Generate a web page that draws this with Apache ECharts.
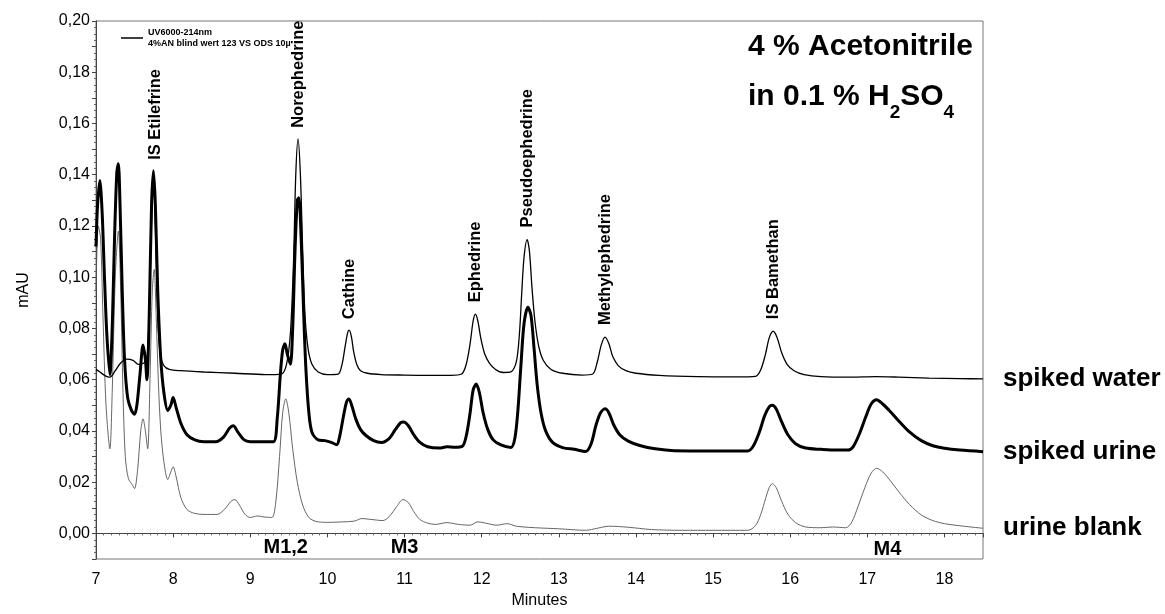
<!DOCTYPE html>
<html><head><meta charset="utf-8">
<script src="https://cdn.jsdelivr.net/npm/echarts@6/dist/echarts.min.js"></script>
<style>html,body{margin:0;padding:0;background:#fff}#c{width:1165px;height:614px}</style>
</head><body><div id="c"></div><script>
const spikedWater = [[7.00,0.064],[7.05,0.063],[7.12,0.0615],[7.18,0.061],[7.25,0.0635],[7.32,0.0665],[7.40,0.068],[7.48,0.0675],[7.55,0.066],[7.62,0.0665],[7.66,0.068],[7.69,0.085],[7.71,0.11],[7.73,0.13],[7.75,0.135],[7.77,0.12],[7.79,0.095],[7.81,0.078],[7.84,0.069],[7.88,0.0655],[7.95,0.064],[8.10,0.0635],[8.40,0.063],[8.80,0.0625],[9.20,0.062],[9.40,0.0622],[9.47,0.066],[9.52,0.078],[9.56,0.105],[9.59,0.14],[9.62,0.154],[9.65,0.14],[9.68,0.11],[9.71,0.085],[9.75,0.072],[9.80,0.066],[9.88,0.063],[10.00,0.062],[10.14,0.0622],[10.19,0.066],[10.23,0.073],[10.26,0.078],[10.28,0.0793],[10.31,0.077],[10.34,0.071],[10.38,0.066],[10.43,0.0635],[10.52,0.0625],[10.70,0.062],[11.00,0.0618],[11.30,0.0617],[11.60,0.0617],[11.74,0.0622],[11.80,0.066],[11.85,0.074],[11.89,0.083],[11.92,0.0856],[11.95,0.083],[11.99,0.076],[12.04,0.070],[12.10,0.0665],[12.18,0.064],[12.28,0.0628],[12.38,0.063],[12.45,0.067],[12.49,0.078],[12.52,0.094],[12.55,0.108],[12.59,0.1147],[12.62,0.110],[12.65,0.097],[12.69,0.083],[12.74,0.073],[12.80,0.0675],[12.90,0.064],[13.05,0.0625],[13.30,0.0618],[13.44,0.0622],[13.50,0.067],[13.55,0.0735],[13.60,0.0766],[13.65,0.074],[13.70,0.069],[13.77,0.0655],[13.87,0.0635],[14.00,0.0625],[14.30,0.0617],[14.80,0.0612],[15.30,0.0611],[15.55,0.0613],[15.62,0.064],[15.68,0.070],[15.73,0.0765],[15.78,0.0789],[15.83,0.0765],[15.89,0.0705],[15.96,0.066],[16.05,0.0635],[16.18,0.062],[16.40,0.0612],[16.80,0.061],[17.10,0.0612],[17.40,0.061],[17.80,0.0606],[18.20,0.0604],[18.50,0.0603]];

const spikedUrine = [[7.00,0.112],[7.02,0.128],[7.05,0.1377],[7.08,0.125],[7.11,0.100],[7.14,0.078],[7.18,0.062],[7.21,0.080],[7.24,0.115],[7.27,0.141],[7.29,0.1443],[7.31,0.130],[7.34,0.095],[7.37,0.068],[7.41,0.053],[7.46,0.048],[7.50,0.0465],[7.53,0.050],[7.57,0.062],[7.61,0.0735],[7.64,0.068],[7.66,0.060],[7.69,0.085],[7.72,0.128],[7.745,0.1415],[7.77,0.128],[7.80,0.095],[7.84,0.068],[7.88,0.055],[7.93,0.048],[7.97,0.050],[8.00,0.053],[8.04,0.049],[8.10,0.043],[8.18,0.0385],[8.28,0.0365],[8.40,0.0358],[8.55,0.0358],[8.65,0.0375],[8.73,0.041],[8.78,0.042],[8.84,0.0395],[8.92,0.0365],[9.00,0.0358],[9.15,0.0358],[9.30,0.0358],[9.35,0.045],[9.39,0.062],[9.42,0.0715],[9.45,0.074],[9.48,0.070],[9.52,0.066],[9.55,0.080],[9.58,0.110],[9.61,0.130],[9.63,0.131],[9.66,0.115],[9.69,0.088],[9.72,0.065],[9.76,0.047],[9.80,0.0395],[9.88,0.0365],[9.97,0.0362],[10.05,0.0355],[10.12,0.0346],[10.16,0.038],[10.21,0.046],[10.25,0.0515],[10.28,0.0525],[10.32,0.0495],[10.37,0.0445],[10.43,0.0405],[10.50,0.0382],[10.60,0.0362],[10.70,0.0355],[10.80,0.037],[10.88,0.0405],[10.95,0.0432],[10.99,0.0435],[11.05,0.042],[11.12,0.0385],[11.20,0.0355],[11.30,0.0338],[11.45,0.0333],[11.55,0.0338],[11.65,0.0336],[11.75,0.034],[11.80,0.038],[11.85,0.047],[11.89,0.056],[11.93,0.0583],[11.97,0.055],[12.02,0.047],[12.08,0.0405],[12.15,0.0365],[12.25,0.0345],[12.38,0.0335],[12.43,0.037],[12.47,0.048],[12.51,0.066],[12.55,0.082],[12.60,0.0883],[12.64,0.085],[12.68,0.072],[12.72,0.058],[12.77,0.047],[12.83,0.040],[12.92,0.0355],[13.05,0.0335],[13.20,0.0328],[13.35,0.032],[13.42,0.035],[13.48,0.042],[13.54,0.047],[13.60,0.0486],[13.65,0.047],[13.71,0.0425],[13.79,0.0385],[13.90,0.036],[14.05,0.0343],[14.25,0.033],[14.50,0.0323],[15.00,0.0322],[15.45,0.0322],[15.52,0.034],[15.60,0.0395],[15.67,0.046],[15.73,0.0495],[15.77,0.050],[15.82,0.0485],[15.89,0.0435],[15.97,0.0385],[16.07,0.035],[16.20,0.0333],[16.40,0.0328],[16.60,0.0325],[16.75,0.0325],[16.82,0.034],[16.90,0.039],[16.98,0.0455],[17.05,0.0505],[17.12,0.0522],[17.20,0.0505],[17.30,0.0475],[17.42,0.0435],[17.55,0.0395],[17.70,0.0362],[17.85,0.0342],[18.00,0.0332],[18.20,0.0325],[18.50,0.0319]];

const urineBlank = [[7.00,0.095],[7.03,0.120],[7.06,0.115],[7.09,0.085],[7.13,0.050],[7.18,0.033],[7.21,0.055],[7.25,0.100],[7.29,0.118],[7.32,0.095],[7.35,0.055],[7.38,0.030],[7.42,0.0214],[7.47,0.019],[7.50,0.0175],[7.54,0.025],[7.58,0.040],[7.61,0.0447],[7.64,0.040],[7.67,0.033],[7.70,0.060],[7.73,0.095],[7.755,0.103],[7.78,0.085],[7.81,0.058],[7.84,0.040],[7.88,0.028],[7.93,0.021],[7.97,0.024],[8.00,0.026],[8.04,0.022],[8.10,0.014],[8.18,0.0093],[8.28,0.0078],[8.40,0.0074],[8.57,0.0074],[8.67,0.0095],[8.75,0.0125],[8.80,0.0132],[8.86,0.011],[8.93,0.0075],[9.00,0.0062],[9.09,0.0068],[9.18,0.0064],[9.28,0.0062],[9.33,0.012],[9.38,0.030],[9.42,0.047],[9.46,0.0525],[9.50,0.047],[9.55,0.033],[9.61,0.020],[9.68,0.011],[9.76,0.0062],[9.85,0.0047],[10.00,0.0043],[10.20,0.0045],[10.35,0.0048],[10.45,0.0058],[10.55,0.0055],[10.72,0.005],[10.80,0.0065],[10.90,0.0105],[10.98,0.0132],[11.05,0.012],[11.12,0.0085],[11.20,0.0054],[11.30,0.004],[11.40,0.0035],[11.55,0.0042],[11.70,0.0035],[11.85,0.0032],[11.95,0.0045],[12.05,0.004],[12.20,0.0032],[12.33,0.0038],[12.45,0.0028],[12.70,0.0022],[13.00,0.0018],[13.35,0.0012],[13.50,0.002],[13.65,0.0028],[13.90,0.0024],[14.20,0.0015],[14.60,0.0012],[15.00,0.0012],[15.45,0.0012],[15.55,0.003],[15.62,0.0075],[15.68,0.0135],[15.73,0.018],[15.77,0.0194],[15.82,0.0178],[15.89,0.0125],[15.97,0.0075],[16.07,0.0042],[16.20,0.0025],[16.40,0.0022],[16.55,0.0025],[16.72,0.0022],[16.80,0.0045],[16.88,0.0105],[16.97,0.018],[17.05,0.0235],[17.12,0.0254],[17.20,0.024],[17.30,0.0205],[17.42,0.0158],[17.55,0.0112],[17.70,0.0072],[17.85,0.005],[18.00,0.0038],[18.25,0.0028],[18.50,0.002]];

const peakNames = ['IS Etilefrine','Norephedrine','Cathine','Ephedrine','Pseudoephedrine','Methylephedrine','IS Bamethan'];
const peakX = [7.765, 9.62, 10.29, 11.92, 12.59, 13.60, 15.78];
const peakLabelY = [0.1458, 0.1583, 0.0836, 0.0902, 0.1194, 0.0813, 0.0836];
const metNames = ['M1,2','M3','M4'];
const metX = [9.46, 11.0, 17.26];
const metY = [-0.0054, -0.0054, -0.0062];
const xTickLabels = ['7','8','9','10','11','12','13','14','15','16','17','18'];

const FONT = "'Liberation Sans', Arial, sans-serif";
const chart = echarts.init(document.getElementById('c'), null, {renderer: 'canvas'});
chart.setOption({
  animation: false,
  backgroundColor: '#fff',
  textStyle: {fontFamily: FONT},
  title: {
    left: 743, top: 17,
    text: '{n|4 % Acetonitrile}\n{n|in 0.1 % H}{s|2}{n|SO}{s|4}',
    textStyle: {
      rich: {
        n: {fontSize: 30, fontWeight: 'bold', color: '#000', fontFamily: FONT, lineHeight: 50},
        s: {fontSize: 19, fontWeight: 'bold', color: '#000', fontFamily: FONT, lineHeight: 50, verticalAlign: 'bottom', padding: [18, 0, 0, 0]}
      }
    }
  },
  legend: {
    data: ['spiked water'], left: 116, top: 22, itemWidth: 22, itemHeight: 1.5, icon: 'rect',
    selectedMode: false,
    formatter: () => 'UV6000-214nm\n4%AN blind wert 123 VS ODS 10µ',
    textStyle: {fontSize: 9, fontWeight: 'bold', lineHeight: 11, color: '#000', fontFamily: FONT}
  },
  grid: {left: 96, right: 182, top: 21, bottom: 51, show: true, borderColor: '#777', borderWidth: 1},
  xAxis: {
    type: 'value', min: 7, max: 18.5, interval: 1,
    name: 'Minutes', nameLocation: 'middle', nameGap: 34,
    nameTextStyle: {fontSize: 16, color: '#000', fontFamily: FONT},
    axisLine: {lineStyle: {color: '#444', width: 1}},
    axisTick: {show: true, length: 4, lineStyle: {color: '#444'}},
    minorTick: {show: true, splitNumber: 10, length: 2, lineStyle: {color: '#666'}},
    splitLine: {show: false},
    axisLabel: {fontSize: 16, color: '#000', margin: 13, fontFamily: FONT,
      formatter: v => (Math.abs(v - Math.round(v)) < 1e-6 && v <= 18) ? xTickLabels[Math.round(v) - 7] : ''}
  },
  yAxis: {
    type: 'value', min: -0.01, max: 0.2, interval: 0.01,
    name: 'mAU', nameLocation: 'middle', nameGap: 64, nameRotate: 90,
    nameTextStyle: {fontSize: 16, color: '#000', fontFamily: FONT},
    axisLine: {show: true, lineStyle: {color: '#444', width: 1}},
    axisTick: {show: true, length: 4, lineStyle: {color: '#444'}},
    minorTick: {show: true, splitNumber: 4, length: 2, lineStyle: {color: '#666'}},
    splitLine: {show: false},
    axisLabel: {fontSize: 16, color: '#000', margin: 6, fontFamily: FONT,
      formatter: v => { const k = Math.round(v * 100); return (k % 2 === 0 && k >= 0) ? (k / 100).toFixed(2).replace('.', ',') : ''; }}
  },
  series: [
    {name: 'urine blank', type: 'line', data: urineBlank, symbol: 'none', smooth: 0.3,
      lineStyle: {color: '#555', width: 0.9}, itemStyle: {color: '#555'},
      endLabel: {show: true, formatter: '{a}', distance: 20, fontSize: 26, fontWeight: 'bold', color: '#000', fontFamily: FONT}},
    {name: 'spiked water', type: 'line', data: spikedWater, symbol: 'none', smooth: 0.3,
      lineStyle: {color: '#000', width: 1.3}, itemStyle: {color: '#000'},
      endLabel: {show: true, formatter: '{a}', distance: 20, fontSize: 26, fontWeight: 'bold', color: '#000', fontFamily: FONT}},
    {name: 'spiked urine', type: 'line', data: spikedUrine, symbol: 'none', smooth: 0.3,
      lineStyle: {color: '#000', width: 3}, itemStyle: {color: '#000'},
      endLabel: {show: true, formatter: '{a}', distance: 20, fontSize: 26, fontWeight: 'bold', color: '#000', fontFamily: FONT}},
    {name: 'peaks', type: 'scatter', silent: true, symbolSize: 0, itemStyle: {opacity: 1, color: '#000'},
      data: peakNames.map((n, i) => ({name: n, value: [peakX[i], peakLabelY[i]]})),
      label: {show: true, position: 'inside', formatter: '{b}', rotate: 90, align: 'left', verticalAlign: 'middle',
        fontSize: 16.5, fontWeight: 'bold', color: '#000', opacity: 1, fontFamily: FONT}},
    {name: 'metabolites', type: 'scatter', silent: true, symbolSize: 0, itemStyle: {opacity: 1, color: '#000'},
      data: metNames.map((n, i) => ({name: n, value: [metX[i], metY[i]]})),
      label: {show: true, position: 'inside', formatter: '{b}', align: 'center', verticalAlign: 'middle',
        fontSize: 20, fontWeight: 'bold', color: '#000', opacity: 1, fontFamily: FONT}}
  ]
});
</script></body></html>
